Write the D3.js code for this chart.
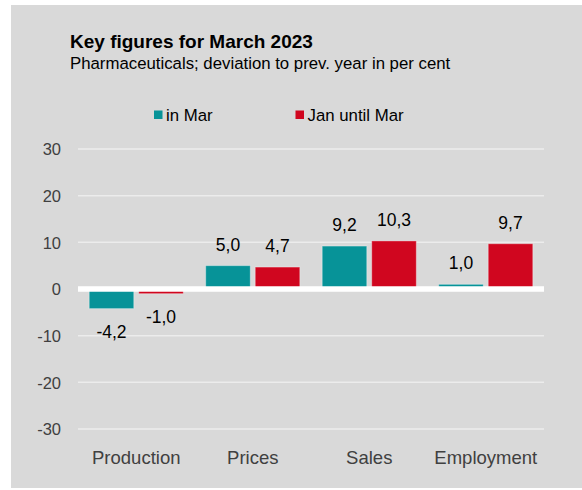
<!DOCTYPE html>
<html><head><meta charset="utf-8">
<script src="https://cdn.jsdelivr.net/npm/d3@7"></script>
<style>
html,body{margin:0;padding:0;background:#fff;}
svg{display:block;font-family:"Liberation Sans",Arial,sans-serif;}
</style></head>
<body>
<script>
const categories = ["Production", "Prices", "Sales", "Employment"];
const seriesNames = ["in Mar", "Jan until Mar"];
const inMar = [-4.2, 5.0, 9.2, 1.0];
const janUntilMar = [-1.0, 4.7, 10.3, 9.7];
const yTicks = [-30, -20, -10, 0, 10, 20, 30];
const colors = ["#079398", "#d0061f"];

const W = 582, H = 490;
const svg = d3.select("body").append("svg").attr("width", W).attr("height", H);
svg.append("rect").attr("x", 11).attr("y", 5).attr("width", W - 11).attr("height", 483).attr("fill", "#d9d9d9");

const loc = d3.formatLocale({decimal: ",", thousands: ".", grouping: [3], currency: ["", ""], minus: "-"});
const fmt = loc.format(".1f");
const fmtTick = loc.format("d");

const x0 = d3.scaleBand().domain(categories).range([78, 544]).paddingInner(0).paddingOuter(0);
const x1 = d3.scaleBand().domain(seriesNames).range([11.2, x0.bandwidth() - 11.2]).paddingInner(0.1);
const y = d3.scaleLinear().domain([-30, 30]).range([429, 149]);

// title
svg.append("text").attr("x", 70).attr("y", 48).attr("font-size", 19).attr("font-weight", "bold").attr("fill", "#000").text("Key figures for March 2023");
svg.append("text").attr("x", 70).attr("y", 69).attr("font-size", 16.8).attr("fill", "#000").text("Pharmaceuticals; deviation to prev. year in per cent");

// legend
const legX = [154, 295.5];
seriesNames.forEach((s, i) => {
  svg.append("rect").attr("x", legX[i]).attr("y", 110.5).attr("width", 8.5).attr("height", 8.5).attr("fill", colors[i]);
  svg.append("text").attr("x", legX[i] + 12).attr("y", 121).attr("font-size", 16.8).attr("fill", "#000").text(s);
});

// y axis labels
const yAxis = d3.axisLeft(y).tickValues(yTicks).tickFormat(fmtTick).tickSize(0).tickPadding(0);
const gAxis = svg.append("g").attr("transform", "translate(61,0)").call(yAxis);
gAxis.select(".domain").remove();
gAxis.selectAll("text").attr("font-size", 16.5).attr("fill", "#404040").attr("font-family", "Liberation Sans, Arial, sans-serif").attr("dy", "0.35em");

// grid
svg.append("g").selectAll("line").data(yTicks.filter(d => d !== 0)).join("line")
  .attr("x1", 78).attr("x2", 544).attr("y1", d => y(d)).attr("y2", d => y(d))
  .attr("stroke", "#ececec").attr("stroke-width", 1.5);

// bars
const data = categories.map((c, i) => ({cat: c, vals: [inMar[i], janUntilMar[i]]}));
const groups = svg.append("g").selectAll("g").data(data).join("g").attr("transform", d => `translate(${x0(d.cat)},0)`);
groups.selectAll("rect").data(d => d.vals.map((v, i) => ({v, s: seriesNames[i], i}))).join("rect")
  .attr("x", d => x1(d.s)).attr("width", x1.bandwidth())
  .attr("y", d => Math.min(y(0), y(d.v))).attr("height", d => Math.abs(y(d.v) - y(0)))
  .attr("fill", d => colors[d.i]).attr("stroke", "rgba(255,255,255,0.35)").attr("stroke-width", 1);

groups.selectAll("text").data(d => d.vals.map((v, i) => ({v, s: seriesNames[i], i}))).join("text")
  .attr("x", d => x1(d.s) + x1.bandwidth() / 2)
  .attr("y", d => d.v >= 0 ? y(d.v) - 15 : y(d.v) + 29)
  .attr("text-anchor", "middle").attr("font-size", 17.5).attr("fill", "#000")
  .text(d => fmt(d.v));

// zero line
svg.append("line").attr("x1", 78).attr("x2", 544).attr("y1", y(0)).attr("y2", y(0)).attr("stroke", "#fff").attr("stroke-width", 5.5);

// category axis
const xAxis = d3.axisBottom(x0).tickSize(0).tickPadding(0);
const gx = svg.append("g").attr("transform", "translate(0,464)").call(xAxis);
gx.select(".domain").remove();
gx.selectAll("text").attr("font-size", 18.5).attr("fill", "#404040").attr("font-family", "Liberation Sans, Arial, sans-serif").attr("dy", 0);
</script>
</body></html>
